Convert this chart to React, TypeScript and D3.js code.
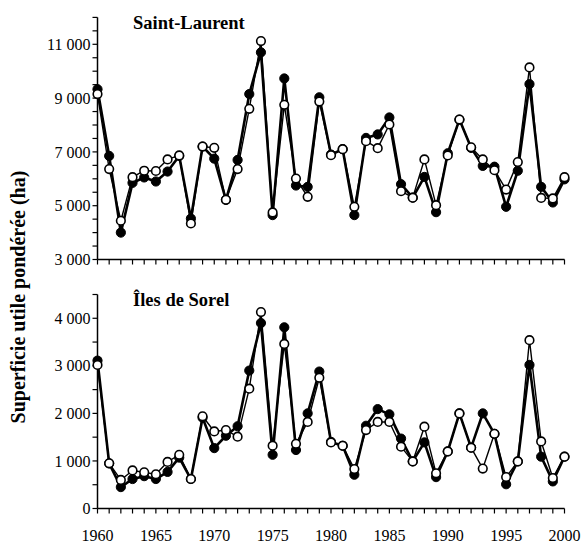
import React from 'react';
import * as d3 from 'd3';

const years = [1960,1961,1962,1963,1964,1965,1966,1967,1968,1969,1970,1971,1972,1973,1974,1975,1976,1977,1978,1979,1980,1981,1982,1983,1984,1985,1986,1987,1988,1989,1990,1991,1992,1993,1994,1995,1996,1997,1998,1999,2000];

const stLaurentFilled = [9330,6850,4000,5850,6050,5900,6270,6850,4520,7200,6750,5220,6700,9150,10700,4650,9730,5750,5700,9030,6900,7100,4650,7520,7650,8280,5800,5300,6070,4760,6950,8200,7150,6480,6450,4960,6300,9520,5700,5120,5980];
const stLaurentOpen = [9150,6360,4440,6060,6300,6290,6720,6870,4340,7200,7150,5220,6360,8600,11120,4750,8750,6010,5330,8870,6880,7100,4960,7400,7140,8020,5540,5300,6720,5020,6870,8200,7170,6720,6320,5600,6620,10140,5290,5270,6060];

const sorelFilled = [3110,950,450,620,680,620,770,1070,620,1910,1270,1530,1730,2900,3900,1130,3810,1230,2000,2880,1400,1320,710,1740,2090,1980,1470,990,1390,660,1200,2000,1280,2000,1570,510,990,3020,1090,570,1090];
const sorelOpen = [3020,950,600,800,760,720,980,1130,620,1940,1620,1650,1510,2520,4130,1320,3460,1360,1820,2750,1390,1320,830,1650,1820,1820,1300,990,1720,740,1200,2000,1280,840,1570,660,990,3540,1410,640,1090];

const stLaurentDomain = [3000, 12000];
const stLaurentTicks = [3000,3500,4000,4500,5000,5500,6000,6500,7000,7500,8000,8500,9000,9500,10000,10500,11000,11500,12000];
const stLaurentLabels = [3000,5000,7000,9000,11000];

const sorelDomain = [0, 4500];
const sorelTicks = [0,500,1000,1500,2000,2500,3000,3500,4000,4500];
const sorelLabels = [0,1000,2000,3000,4000];

const yearLabels = [1960,1965,1970,1975,1980,1985,1990,1995,2000];

const panelTitles = ['Saint-Laurent', 'Îles de Sorel'];
const yTitle = 'Superficie utile pondérée (ha)';

const W = 587, H = 544;
const FONT = '"Liberation Serif", "Times New Roman", Times, serif';

const locale = d3.formatLocale({ decimal: ',', thousands: '\u00a0', grouping: [3], currency: ['', ''] });
const fmt = locale.format(',');

const x = d3.scaleLinear().domain([1960, 2000]).range([97.5, 564.5]);

type PanelProps = {
  title: string;
  domain: number[];
  range: number[];
  ticks: number[];
  labels: number[];
  filled: number[];
  open: number[];
  showYears: boolean;
};

function Panel({ title, domain, range, ticks, labels, filled, open, showYears }: PanelProps) {
  const y = d3.scaleLinear().domain(domain).range(range);
  const x0 = x(1960);
  const yBase = y(domain[0]);
  const line = d3.line<number>().x((_, i) => x(years[i])).y((d) => y(d));
  return (
    <g>
      <text x={133} y={y(domain[1]) + 11.5} fontFamily={FONT} fontWeight="bold" fontSize={18.5}>{title}</text>
      {/* y axis */}
      <line x1={x0} x2={x0} y1={y(domain[1])} y2={yBase} stroke="#000" strokeWidth={1.5} />
      {ticks.map((t) => (
        <line key={'yt' + t} x1={x0 - 5} x2={x0} y1={y(t)} y2={y(t)} stroke="#000" strokeWidth={1.2} />
      ))}
      {labels.map((t) => (
        <text key={'yl' + t} x={x0 - 7} y={y(t)} dy="0.35em" textAnchor="end" fontFamily={FONT} fontSize={16}>{fmt(t)}</text>
      ))}
      {/* x axis */}
      <line x1={x0} x2={x(2000)} y1={yBase} y2={yBase} stroke="#000" strokeWidth={1.5} />
      {years.map((yr) => (
        <line key={'xt' + yr} x1={x(yr)} x2={x(yr)} y1={yBase} y2={yBase + 5} stroke="#000" strokeWidth={1.2} />
      ))}
      {showYears && yearLabels.map((yr) => (
        <text key={'xl' + yr} x={x(yr)} y={yBase + 32} textAnchor="middle" fontFamily={FONT} fontSize={16}>{yr}</text>
      ))}
      {/* filled series */}
      <path d={line(filled) || ''} fill="none" stroke="#000" strokeWidth={2.6} strokeLinejoin="round" />
      {filled.map((v, i) => (
        <circle key={'f' + i} cx={x(years[i])} cy={y(v)} r={4.6} fill="#000" stroke="#000" strokeWidth={1} />
      ))}
      {/* open series */}
      <path d={line(open) || ''} fill="none" stroke="#000" strokeWidth={1.4} strokeLinejoin="round" />
      {open.map((v, i) => (
        <circle key={'o' + i} cx={x(years[i])} cy={y(v)} r={4.3} fill="#fff" stroke="#000" strokeWidth={1.6} />
      ))}
    </g>
  );
}

export default function App() {
  return (
    <svg width={W} height={H} style={{ position: 'absolute', left: 0, top: 0, background: '#fff' }}>
      <rect width={W} height={H} fill="#fff" />
      <Panel title={panelTitles[0]} domain={stLaurentDomain} range={[259.5, 17.4]} ticks={stLaurentTicks} labels={stLaurentLabels} filled={stLaurentFilled} open={stLaurentOpen} showYears={false} />
      <Panel title={panelTitles[1]} domain={sorelDomain} range={[508.5, 294.5]} ticks={sorelTicks} labels={sorelLabels} filled={sorelFilled} open={sorelOpen} showYears={true} />
      <text transform="translate(25,297) rotate(-90)" textAnchor="middle" fontFamily={FONT} fontWeight="bold" fontSize={20}>{yTitle}</text>
    </svg>
  );
}
